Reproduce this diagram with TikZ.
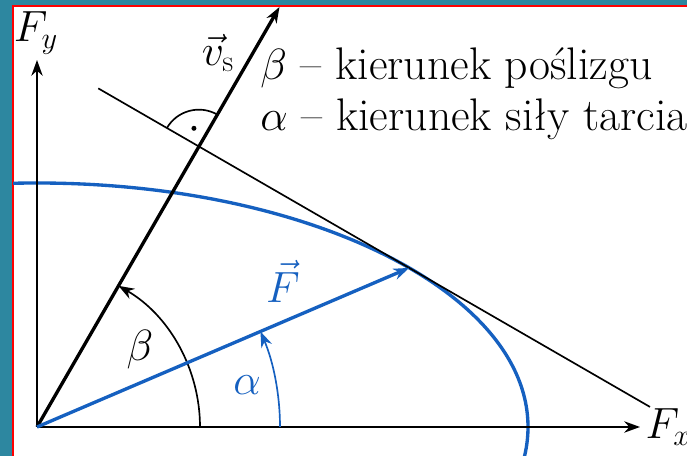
\documentclass[tikz,border=0pt]{standalone}
\usepackage{amsmath}
\usepackage{amssymb}
\usepackage{tikz}
\usepackage{xcolor}
\usetikzlibrary{arrows}
\usetikzlibrary{arrows.meta}
\usetikzlibrary{calc}
\definecolor{frameteal}{RGB}{45,135,160}
\definecolor{forceblue}{RGB}{21,96,192}
\tikzset{
    thinline/.style={line width=0.95pt},
    thickline/.style={line width=1.9pt},
    >={Stealth[length=9pt, width=6.5pt]}
}
\begin{document}
\begin{tikzpicture}[x=0.02cm, y=0.02cm, font=\fontsize{26}{31}\selectfont]
        \useasboundingbox (-37,-29) rectangle (650,427);
        \fill[frameteal] (-37,-29) rectangle (650,427);
        \fill[white] (-24,-29) rectangle (660,421);
        \draw[red, line width=1.2pt] (-24,-40) -- (-24,421) -- (660,421);
        \begin{scope}
        \clip (-24,-29) rectangle (660,421);
        \coordinate (O) at (0,0);
        \coordinate (Fx) at (603,0);
        \coordinate (Fy) at (0,367);
        \coordinate (vs) at (60:485);
        \coordinate (F) at (372.2,159.1);
        \coordinate (I) at (60:323.7);
        \coordinate (T1) at ($(F)+(150:359)$);
        \coordinate (T2) at ($(F)+(-30:278)$);
        \draw[forceblue, thickline] (O) ellipse [x radius=491, y radius=244];
        \draw[thinline, ->] (O) -- (Fx);
        \draw[thinline, ->] (O) -- (Fy);
        \draw[thinline] (T1) -- (T2);
        \draw[thinline] ($(I)+(60:37)$) arc[start angle=60, end angle=150, radius=37];
        \fill ($(I)+(105:19)$) circle (2.5);
        \draw[thinline, ->] (163,0) arc[start angle=0, end angle=60, radius=163];
        \draw[forceblue, thinline, ->] (243,0) arc[start angle=0, end angle=23.14, radius=243];
        \draw[thickline, ->] (O) -- (vs);
        \draw[forceblue, thickline, ->] (O) -- (F);
        \node[anchor=west, inner sep=3pt] (labFx) at (Fx) {$F_x$};
        \node (labFy) at (-1,394) {$F_y$};
        \node (labvs) at (181,374) {$\vec{v}_{\mathrm{s}}$};
        \node[forceblue] (labF) at (246,146) {$\vec{F}$};
        \node (labbeta) at (103,77) {$\beta$};
        \node[forceblue] (labalpha) at (210,42) {$\alpha$};
        \node[anchor=base west, inner sep=0pt] (legbeta) at (223,347) {$\beta$ -- kierunek poślizgu};
        \node[anchor=base west, inner sep=0pt] (legalpha) at (223,296) {$\alpha$ -- kierunek siły tarcia};
        \end{scope}
\end{tikzpicture}
\end{document}
